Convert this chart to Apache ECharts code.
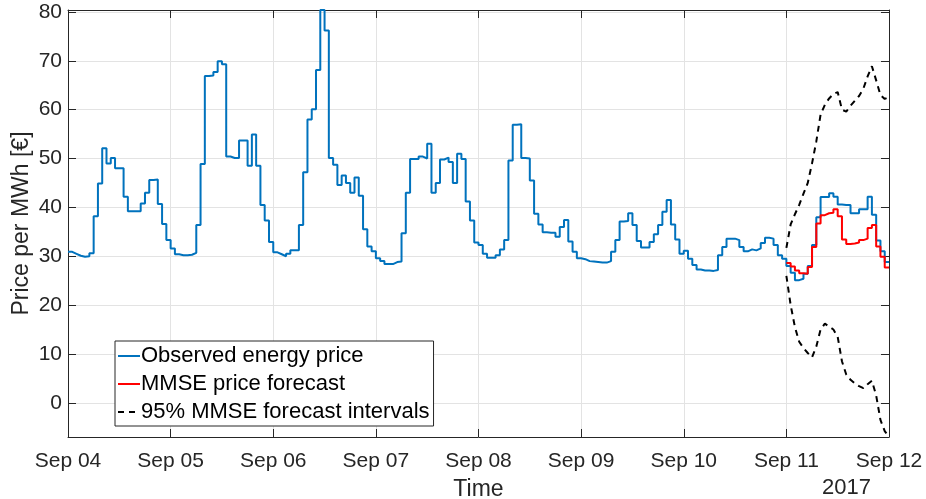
<!DOCTYPE html>
<html>
<head>
<meta charset="utf-8">
<script src="https://cdn.jsdelivr.net/npm/echarts@6/dist/echarts.min.js"></script>
<style>
  html, body { margin: 0; padding: 0; background: #fff; }
  #chart { width: 926px; height: 499px; }
</style>
</head>
<body>
<div id="chart"></div>
<script>
// hourly values, hour 0 = Sep 04 00:00
const dayLabels = ['Sep 04', 'Sep 05', 'Sep 06', 'Sep 07', 'Sep 08', 'Sep 09', 'Sep 10', 'Sep 11', 'Sep 12'];

const observed = [
  30.9, 30.5, 30.1, 29.9, 30.0, 30.6, 38.2, 44.9, 52.1, 49.0, 50.1, 48.0, 48.0, 42.2, 39.2, 39.2, 39.2, 40.8, 43.0, 45.6, 45.7, 40.7, 36.6, 33.3,
  31.6, 30.4, 30.2, 30.2, 30.3, 30.7, 36.4, 48.9, 66.9, 67.0, 67.7, 69.9, 69.3, 50.4, 50.1, 50.1, 53.7, 53.7, 48.5, 54.9, 48.5, 40.5, 37.3, 32.9,
  30.8, 30.4, 30.0, 30.5, 31.2, 31.2, 36.4, 47.2, 58.0, 60.1, 68.1, 80.4, 76.2, 50.1, 48.7, 44.6, 46.5, 45.0, 43.0, 46.1, 42.4, 35.5, 32.0, 31.0,
  29.6, 29.0, 28.4, 28.4, 28.8, 28.9, 34.7, 43.0, 49.9, 49.9, 50.4, 50.0, 53.0, 43.0, 45.0, 49.8, 50.2, 49.3, 45.0, 51.0, 49.9, 41.2, 37.3, 32.8,
  32.3, 30.5, 29.7, 29.7, 30.2, 31.4, 33.3, 49.6, 56.9, 57.0, 50.1, 50.0, 45.5, 38.7, 36.5, 34.9, 34.8, 34.8, 34.0, 36.0, 37.4, 33.0, 30.9, 29.6,
  29.4, 29.0, 28.9, 28.8, 28.7, 28.7, 29.0, 30.9, 33.3, 37.1, 37.2, 38.8, 36.4, 33.1, 31.8, 31.8, 32.9, 34.5, 36.4, 39.1, 41.5, 36.5, 33.4, 30.5,
  31.1, 29.5, 28.2, 27.3, 27.1, 27.1, 27.0, 27.2, 30.2, 31.9, 33.6, 33.6, 33.3, 31.9, 31.0, 31.4, 31.2, 31.6, 32.7, 33.8, 33.6, 32.3, 30.2, 29.5,
  28.0, 26.6, 25.1, 25.4, 26.4, 28.0, 32.3, 38.0, 42.1, 42.1, 42.9, 42.2, 40.6, 40.5, 40.5, 38.8, 38.8, 39.6, 39.6, 42.2, 38.5, 33.2, 31.0, 28.8
];

// forecast horizon starts at hour 168 (Sep 11 00:00)
const forecastStart = 168;
const forecast = [
  28.6, 27.9, 27.1, 26.5, 26.4, 27.8, 31.9, 36.7, 38.4, 38.8, 38.9, 39.6, 38.2, 33.4, 32.5, 32.6, 32.8, 33.3, 33.6, 35.8, 36.4, 32.0, 29.9, 27.7
];
const upperBound = [
  31.7, 36.5, 38.6, 40.5, 42.8, 45.0, 49.0, 53.5, 59.0, 61.0, 62.3, 63.2, 63.6, 60.0, 59.6, 60.8, 61.8, 62.8, 64.3, 66.8, 68.9, 66.0, 63.0, 62.2, 62.6
];
const lowerBound = [
  26.0, 20.0, 15.5, 12.5, 11.2, 10.2, 9.3, 11.5, 15.0, 16.2, 15.6, 15.0, 13.5, 8.5, 5.8, 4.7, 4.0, 3.4, 3.0, 3.8, 4.5, 1.5, -3.5, -5.8, -7.0
];

const TEXT = '#262626';
const FONT = 'Liberation Sans';

function stairs(values, start) {
  const pts = values.map((v, i) => [start + i, v]);
  pts.push([start + values.length, values[values.length - 1]]);
  return pts;
}

const chart = echarts.init(document.getElementById('chart'), null, { renderer: 'canvas' });

const tickInside = { show: true, inside: true, length: 8, lineStyle: { color: TEXT, width: 1 } };
const axisLine = { show: true, onZero: false, lineStyle: { color: TEXT, width: 1 } };

const option = {
  animation: false,
  backgroundColor: '#fff',
  textStyle: { fontFamily: FONT },
  grid: { left: 68, right: 37, top: 10, bottom: 62, outerBoundsMode: 'none' },
  legend: {
    orient: 'vertical',
    left: 115,
    top: 341,
    itemWidth: 22,
    itemHeight: 12,
    itemGap: 6,
    padding: [4, 4, 3, 2],
    borderColor: TEXT,
    borderWidth: 1,
    backgroundColor: '#fff',
    itemStyle: { opacity: 0 },
    textStyle: { fontFamily: FONT, fontSize: 22, color: '#000', padding: [0, 0, 0, -4] },
    data: ['Observed energy price', 'MMSE price forecast', '95% MMSE forecast intervals']
  },
  graphic: [{
    type: 'text',
    left: 822,
    top: 477,
    style: { text: '2017', font: '22px "Liberation Sans"', fill: TEXT }
  }],
  xAxis: [{
    type: 'value',
    min: 0,
    max: 192,
    interval: 24,
    position: 'bottom',
    name: 'Time',
    nameLocation: 'middle',
    nameGap: 41,
    nameTextStyle: { fontFamily: FONT, fontSize: 23, color: TEXT },
    axisLine: axisLine,
    axisTick: tickInside,
    axisLabel: {
      fontFamily: FONT, fontSize: 21, color: TEXT, margin: 14,
      formatter: v => dayLabels[Math.round(v / 24)]
    },
    splitLine: { show: true, lineStyle: { color: '#e3e3e3', width: 1 } }
  }, {
    type: 'value',
    min: 0,
    max: 192,
    interval: 24,
    position: 'top',
    axisLine: axisLine,
    axisTick: tickInside,
    axisLabel: { show: false },
    splitLine: { show: false }
  }],
  yAxis: [{
    type: 'value',
    min: -7,
    max: 80.4,
    splitNumber: 8,
    minInterval: 10,
    maxInterval: 10,
    position: 'left',
    name: 'Price per MWh [€]',
    nameLocation: 'middle',
    nameGap: 35,
    nameMoveOverlap: false,
    nameTextStyle: { fontFamily: FONT, fontSize: 23, color: TEXT },
    axisLine: axisLine,
    axisTick: tickInside,
    axisLabel: { fontFamily: FONT, fontSize: 21, color: TEXT, margin: 6, showMinLabel: false, showMaxLabel: false },
    splitLine: { show: true, lineStyle: { color: '#e3e3e3', width: 1 } }
  }, {
    type: 'value',
    min: -7,
    max: 80.4,
    splitNumber: 8,
    minInterval: 10,
    maxInterval: 10,
    position: 'right',
    axisLine: axisLine,
    axisTick: tickInside,
    axisLabel: { show: false },
    splitLine: { show: false }
  }],
  series: [{
    name: 'Observed energy price',
    type: 'line',
    step: 'end',
    symbol: 'none',
    lineStyle: { color: '#0072BD', width: 2 },
    itemStyle: { color: '#0072BD' },
    data: stairs(observed, 0)
  }, {
    name: 'MMSE price forecast',
    type: 'line',
    step: 'end',
    symbol: 'none',
    lineStyle: { color: '#FF0000', width: 2 },
    itemStyle: { color: '#FF0000' },
    data: stairs(forecast, forecastStart)
  }, {
    name: '95% MMSE forecast intervals',
    type: 'line',
    symbol: 'none',
    lineStyle: { color: '#000', width: 2, type: [6, 5] },
    itemStyle: { color: '#000' },
    data: upperBound.map((v, i) => [forecastStart + i, v])
  }, {
    name: '95% MMSE forecast intervals',
    type: 'line',
    symbol: 'none',
    lineStyle: { color: '#000', width: 2, type: [6, 5] },
    itemStyle: { color: '#000' },
    data: lowerBound.map((v, i) => [forecastStart + i, v])
  }]
};

chart.setOption(option);
</script>
</body>
</html>
